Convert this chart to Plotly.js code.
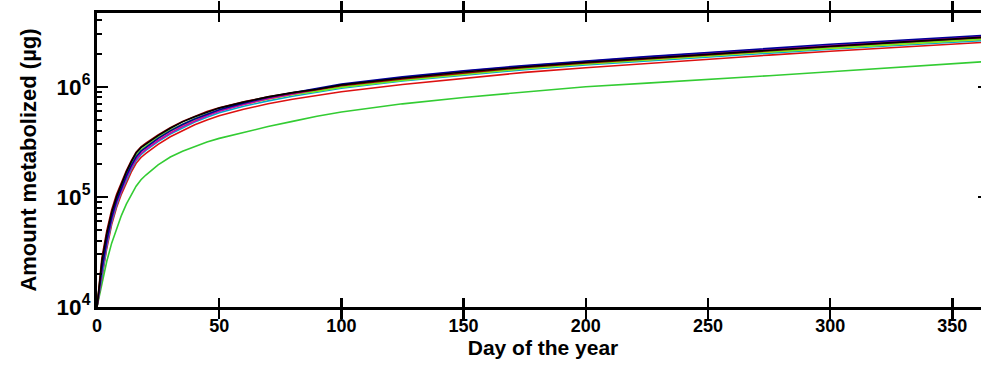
<!DOCTYPE html>
<html>
<head>
<meta charset="utf-8">
<script src="https://cdn.plot.ly/plotly-3.0.1.min.js"></script>
<style>
html,body{margin:0;padding:0;background:#fff;overflow:hidden;width:981px;height:368px;}
#chart{width:1000px;height:368px;}
</style>
</head>
<body>
<div id="chart"></div>
<script>
const days = [0,2,4,6,8,10,12,14,16,18,20,25,30,35,40,45,50,60,70,80,90,100,125,150,175,200,225,250,275,300,325,350,365];

const blackSeries = [1.0e4,2.6e4,4.6e4,7.2e4,1.0e5,1.32e5,1.68e5,2.08e5,2.5e5,2.8e5,3.02e5,3.6e5,4.2e5,4.8e5,5.35e5,5.9e5,6.4e5,7.25e5,8.1e5,8.85e5,9.5e5,1.04e6,1.2e6,1.36e6,1.52e6,1.67e6,1.82e6,1.98e6,2.15e6,2.33e6,2.52e6,2.72e6,2.84e6];
const darkRedSeries = [1.0e4,2.8e4,4.9e4,7.6e4,1.05e5,1.36e5,1.72e5,2.12e5,2.55e5,2.85e5,3.08e5,3.65e5,4.25e5,4.85e5,5.4e5,5.95e5,6.45e5,7.3e5,8.1e5,8.8e5,9.4e5,1.02e6,1.18e6,1.34e6,1.5e6,1.65e6,1.8e6,1.96e6,2.13e6,2.31e6,2.5e6,2.7e6,2.82e6];
const blueSeries = [1.0e4,2.2e4,4.0e4,6.5e4,9.2e4,1.22e5,1.55e5,1.92e5,2.3e5,2.6e5,2.82e5,3.4e5,3.98e5,4.55e5,5.1e5,5.65e5,6.2e5,7.1e5,8.0e5,8.8e5,9.6e5,1.06e6,1.23e6,1.4e6,1.56e6,1.72e6,1.88e6,2.05e6,2.24e6,2.43e6,2.62e6,2.82e6,2.95e6];
const magentaSeries = [1.0e4,2.1e4,3.8e4,6.2e4,8.8e4,1.16e5,1.48e5,1.84e5,2.2e5,2.48e5,2.7e5,3.25e5,3.8e5,4.35e5,4.9e5,5.45e5,6.0e5,6.9e5,7.8e5,8.6e5,9.4e5,1.04e6,1.21e6,1.38e6,1.54e6,1.7e6,1.86e6,2.02e6,2.2e6,2.38e6,2.57e6,2.77e6,2.9e6];
const limeSeries = [1.0e4,2.4e4,4.3e4,6.8e4,9.6e4,1.26e5,1.6e5,1.98e5,2.38e5,2.68e5,2.9e5,3.48e5,4.05e5,4.6e5,5.15e5,5.65e5,6.15e5,7.0e5,7.8e5,8.5e5,9.1e5,9.9e5,1.15e6,1.31e6,1.47e6,1.62e6,1.77e6,1.92e6,2.08e6,2.25e6,2.43e6,2.62e6,2.74e6];
const yellowSeries = [1.0e4,2.3e4,4.1e4,6.6e4,9.3e4,1.22e5,1.55e5,1.92e5,2.3e5,2.6e5,2.82e5,3.38e5,3.95e5,4.5e5,5.02e5,5.55e5,6.05e5,6.9e5,7.7e5,8.45e5,9.1e5,9.9e5,1.15e6,1.3e6,1.46e6,1.61e6,1.76e6,1.91e6,2.07e6,2.24e6,2.42e6,2.6e6,2.72e6];
const cyanSeries = [1.0e4,2.0e4,3.6e4,5.9e4,8.4e4,1.12e5,1.43e5,1.78e5,2.14e5,2.42e5,2.64e5,3.18e5,3.72e5,4.25e5,4.78e5,5.3e5,5.8e5,6.65e5,7.45e5,8.2e5,8.9e5,9.7e5,1.13e6,1.28e6,1.43e6,1.58e6,1.72e6,1.87e6,2.03e6,2.19e6,2.36e6,2.54e6,2.65e6];
const redSeries = [1.0e4,1.9e4,3.4e4,5.6e4,8.0e4,1.06e5,1.35e5,1.68e5,2.02e5,2.28e5,2.48e5,3.0e5,3.52e5,4.02e5,4.52e5,5.0e5,5.45e5,6.25e5,7.0e5,7.7e5,8.3e5,9.0e5,1.05e6,1.2e6,1.35e6,1.49e6,1.63e6,1.78e6,1.94e6,2.1e6,2.27e6,2.45e6,2.55e6];
const greenSeries = [1.0e4,1.6e4,2.6e4,3.8e4,5.2e4,6.8e4,8.6e4,1.05e5,1.25e5,1.43e5,1.58e5,1.95e5,2.3e5,2.6e5,2.88e5,3.15e5,3.4e5,3.85e5,4.35e5,4.85e5,5.4e5,5.9e5,7.0e5,8.0e5,9.0e5,1.0e6,1.08e6,1.16e6,1.26e6,1.37e6,1.49e6,1.61e6,1.7e6];

const xTicks = [0,50,100,150,200,250,300,350];
const xTickLabels = ['0','50','100','150','200','250','300','350'];
const yMinorTicks = [2e4,3e4,4e4,5e4,6e4,7e4,8e4,9e4,2e5,3e5,4e5,5e5,6e5,7e5,8e5,9e5,2e6,3e6,4e6];

const seriesList = [
  {y: greenSeries, color: '#33cc33'},
  {y: redSeries, color: '#dd1111'},
  {y: cyanSeries, color: '#00aacc'},
  {y: yellowSeries, color: '#e0d000'},
  {y: limeSeries, color: '#66ee22'},
  {y: magentaSeries, color: '#cc00aa'},
  {y: blueSeries, color: '#000099'},
  {y: darkRedSeries, color: '#990000'},
  {y: blackSeries, color: '#000000'}
];

const traces = seriesList.map(s => ({
  x: days, y: s.y, type: 'scatter', mode: 'lines',
  line: {color: s.color, width: 1.6},
  showlegend: false, hoverinfo: 'skip'
}));

const FAM = 'Liberation Sans, Arial, sans-serif';
const tickFont = {family: FAM, size: 18, color: '#000', weight: 'bold'};

const layout = {
  width: 1000, height: 368,
  margin: {l: 97, r: 11, t: 13, b: 61},
  paper_bgcolor: '#fff', plot_bgcolor: '#fff',
  showlegend: false,
  xaxis: {
    range: [0, 365],
    tickvals: xTicks,
    ticktext: xTickLabels,
    ticks: 'inside', ticklen: 9, tickwidth: 2.5, tickcolor: '#000',
    showline: true, linewidth: 3, linecolor: '#000', mirror: 'allticks',
    showgrid: false, zeroline: false,
    tickfont: tickFont,
    title: {text: 'Day of the year', font: {family: FAM, size: 21, color: '#000', weight: 'bold'}, standoff: 3}
  },
  yaxis: {
    type: 'log',
    range: [4, 6.67],
    dtick: 1,
    exponentformat: 'power',
    ticks: 'inside', ticklen: 11, tickwidth: 2.5, tickcolor: '#000',
    showline: true, linewidth: 3, linecolor: '#000', mirror: 'allticks',
    showgrid: false, zeroline: false,
    tickfont: tickFont,
    title: {text: 'Amount metabolized (µg)', font: {family: FAM, size: 22, color: '#000', weight: 'bold'}, standoff: 14}
  },
  yaxis2: {
    type: 'log',
    range: [4, 6.67],
    overlaying: 'y',
    side: 'left',
    tickvals: yMinorTicks,
    ticks: 'inside', ticklen: 5, tickwidth: 2, tickcolor: '#000',
    showticklabels: false, showline: false, showgrid: false, zeroline: false,
    mirror: 'ticks'
  }
};

// invisible helper trace to make yaxis2 active
traces.push({x: [0], y: [1e4], yaxis: 'y2', mode: 'markers', marker: {opacity: 0}, showlegend: false, hoverinfo: 'skip'});

Plotly.newPlot('chart', traces, layout, {displayModeBar: false, staticPlot: true});
</script>
</body>
</html>
